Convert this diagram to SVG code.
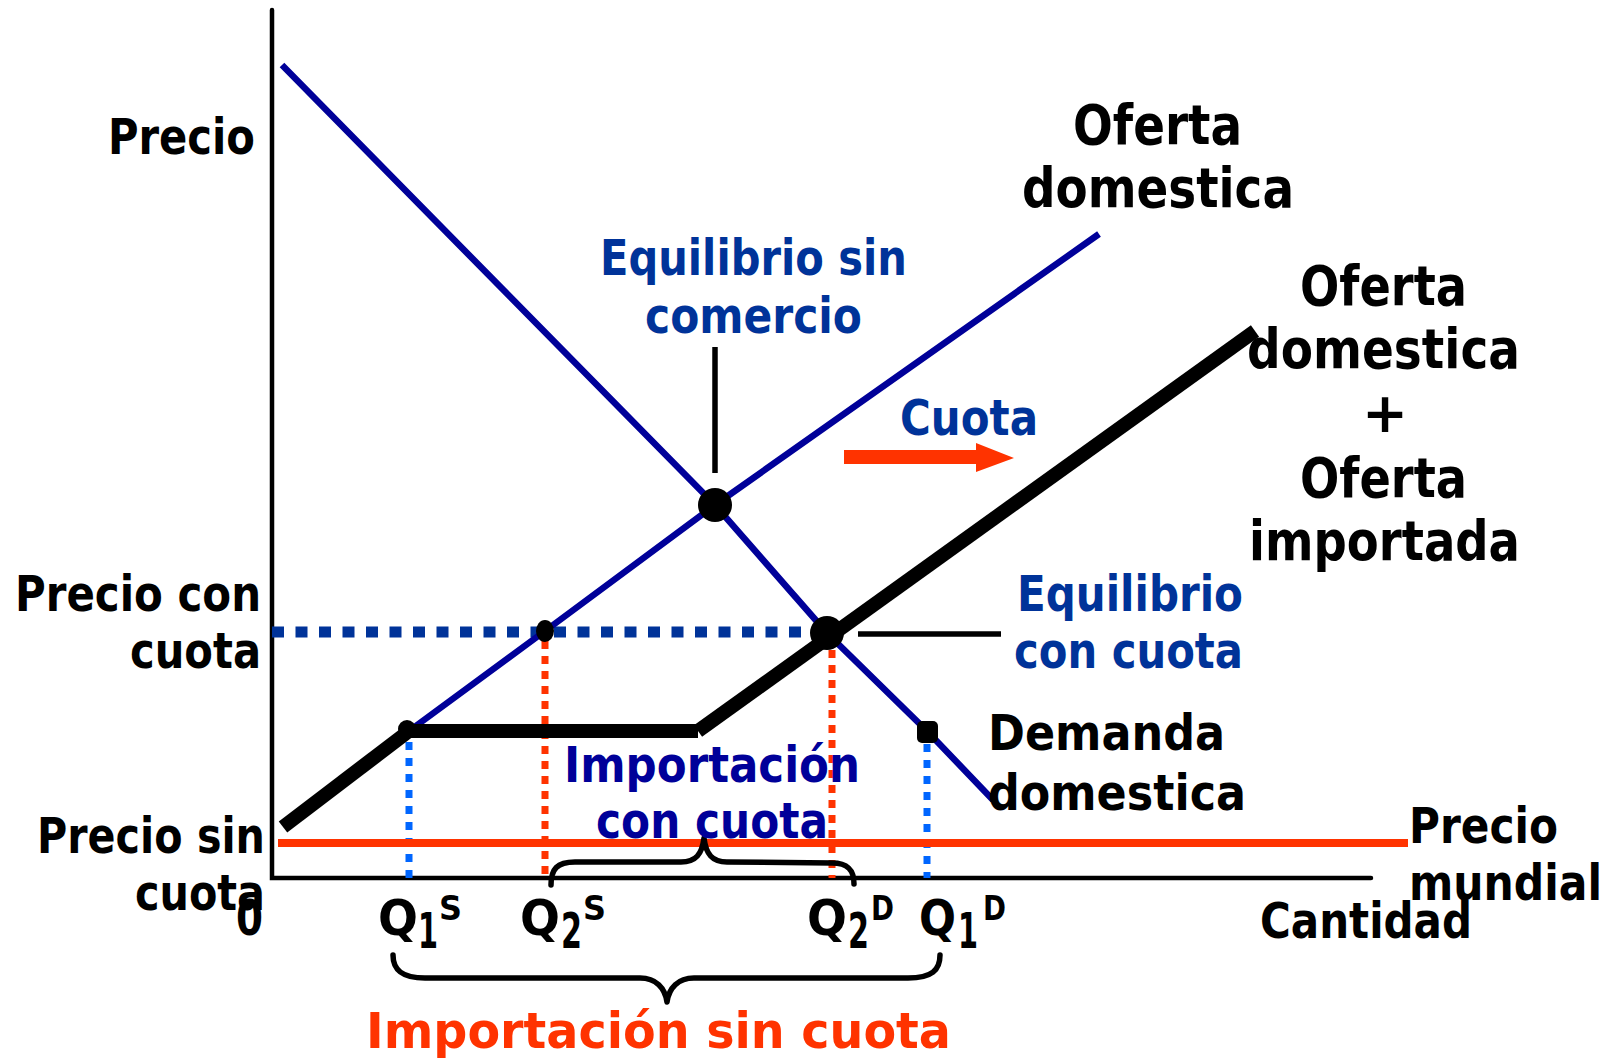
<svg xmlns="http://www.w3.org/2000/svg" width="1610" height="1058" viewBox="0 0 1610 1058">
<style>
text{font-family:"DejaVu Sans",Verdana,sans-serif;font-weight:bold;font-size:50px}
.k{fill:#000}
.b{fill:#003399}
.n{fill:#000099}
.r{fill:#FF3300}
.big{font-size:55px}
.axis{fill:none;stroke:#000;stroke-width:4.5;stroke-linecap:round}
.curve{fill:none;stroke:#000099;stroke-width:6.5}
.thick{fill:none;stroke:#000;stroke-width:14}
.brace{fill:none;stroke:#000;stroke-width:5.5;stroke-linejoin:round;stroke-linecap:round}
.dotR{fill:none;stroke:#FF3300;stroke-width:7;stroke-dasharray:8 7}
.dotB{fill:none;stroke:#0066FF;stroke-width:7;stroke-dasharray:8 8}
.lead{fill:none;stroke:#000;stroke-width:5.5}
</style>
<rect width="1610" height="1058" fill="#fff"/>

<g id="axes">
<path class="axis" d="M272,10 V878 H1371"/>
</g>

<g id="guides">
<path d="M272,632 H820" fill="none" stroke="#003399" stroke-width="11" stroke-dasharray="12 11.5"/>
<path class="dotB" d="M409,742 V878"/>
<path class="dotR" d="M545,641 V878"/>
<path class="dotR" d="M832,650 V878"/>
<path class="dotB" d="M927,744 V878"/>
<path d="M278,843 H1408" fill="none" stroke="#FF3300" stroke-width="8"/>
</g>

<g id="curves">
<polyline id="demanda" class="curve" points="282,65 715,505 827,633 928,732 993,800"/>
<polyline id="oferta-domestica" class="curve" points="409,731 545,631 715,505 1099,234"/>
<g id="oferta-total">
<line class="thick" x1="283" y1="827" x2="409" y2="731"/>
<line class="thick" x1="405" y1="731" x2="698" y2="731" stroke-width="15"/>
<line class="thick" x1="698" y1="731" x2="1255" y2="331"/>
</g>
</g>

<g id="connectors">
<path class="lead" d="M715,347 V473"/>
<path class="lead" d="M858,634 H1001" stroke-width="6"/>
<path id="cuota-arrow" d="M844,450 H976 V443 L1014,458 L976,472 V464 H844 Z" fill="#FF3300"/>
<path id="brace-con" class="brace" d="M551,885 C551,869 557,862 575,862 L681,862 C696,862 702,854 704,838 C706,854 712,862 727,862 L832,863 C848,863 854,870 854,884"/>
<path id="brace-sin" class="brace" d="M393,955 C393,970 402,978 425,978 L640,978 C656,978 665,988 667,1002 C669,988 678,978 694,978 L908,978 C932,978 940,970 940,955"/>
</g>

<g id="points">
<circle id="eq-sin-comercio" cx="715" cy="505" r="17"/>
<circle id="eq-con-cuota" cx="827" cy="633" r="17"/>
<ellipse id="pt-q2s" cx="545" cy="631" rx="9" ry="11"/>
<circle id="pt-q1s" cx="407" cy="729" r="9"/>
<rect id="pt-q1d" x="917" y="721" width="21" height="22" rx="5"/>
</g>

<g id="labels">
<text class="k" x="108" y="154" textLength="147" lengthAdjust="spacingAndGlyphs">Precio</text>
<g id="lbl-oferta-domestica">
<text class="k big" x="1073" y="144" textLength="169" lengthAdjust="spacingAndGlyphs">Oferta</text>
<text class="k big" x="1022" y="207" textLength="272" lengthAdjust="spacingAndGlyphs">domestica</text>
</g>
<g id="lbl-eq-sin">
<text class="b" x="600" y="275" textLength="307" lengthAdjust="spacingAndGlyphs">Equilibrio sin</text>
<text class="b" x="645" y="333" textLength="217" lengthAdjust="spacingAndGlyphs">comercio</text>
</g>
<g id="lbl-oferta-total">
<text class="k big" x="1300" y="305" textLength="167" lengthAdjust="spacingAndGlyphs">Oferta</text>
<text class="k big" x="1247" y="368" textLength="273" lengthAdjust="spacingAndGlyphs">domestica</text>
<text class="k big" x="1385" y="432" text-anchor="middle">+</text>
<text class="k big" x="1300" y="497" textLength="167" lengthAdjust="spacingAndGlyphs">Oferta</text>
<text class="k big" x="1249" y="560" textLength="271" lengthAdjust="spacingAndGlyphs">importada</text>
</g>
<text class="b" x="900" y="435" textLength="138" lengthAdjust="spacingAndGlyphs">Cuota</text>
<g id="lbl-precio-con">
<text class="k" x="15" y="611" textLength="246" lengthAdjust="spacingAndGlyphs">Precio con</text>
<text class="k" x="130" y="668" textLength="131" lengthAdjust="spacingAndGlyphs">cuota</text>
</g>
<g id="lbl-eq-con">
<text class="b" x="1017" y="611" textLength="226" lengthAdjust="spacingAndGlyphs">Equilibrio</text>
<text class="b" x="1014" y="668" textLength="229" lengthAdjust="spacingAndGlyphs">con cuota</text>
</g>
<g id="lbl-demanda">
<text class="k" x="988" y="750" textLength="237" lengthAdjust="spacingAndGlyphs">Demanda</text>
<text class="k" x="988" y="810" textLength="258" lengthAdjust="spacingAndGlyphs">domestica</text>
</g>
<g id="lbl-imp-con">
<text class="n" x="564" y="782" textLength="296" lengthAdjust="spacingAndGlyphs">Importación</text>
<text class="n" x="596" y="838" textLength="232" lengthAdjust="spacingAndGlyphs">con cuota</text>
</g>
<g id="lbl-precio-sin">
<text class="k" x="37" y="853" textLength="228" lengthAdjust="spacingAndGlyphs">Precio sin</text>
<text class="k" x="135" y="910" textLength="130" lengthAdjust="spacingAndGlyphs">cuota</text>
</g>
<text class="k" x="236" y="935" textLength="27" lengthAdjust="spacingAndGlyphs">0</text>
<g id="lbl-precio-mundial">
<text class="k" x="1409" y="843" textLength="149" lengthAdjust="spacingAndGlyphs">Precio</text>
<text class="k" x="1409" y="900" textLength="193" lengthAdjust="spacingAndGlyphs">mundial</text>
</g>
<text class="k" x="1260" y="938" textLength="212" lengthAdjust="spacingAndGlyphs">Cantidad</text>
<g id="lbl-q1s">
<text class="k" x="378" y="935" textLength="40" lengthAdjust="spacingAndGlyphs">Q</text>
<text class="k" x="418" y="948" font-size="48" textLength="20" lengthAdjust="spacingAndGlyphs">1</text>
<text class="k" x="439" y="920" style="font-size:34px" textLength="23" lengthAdjust="spacingAndGlyphs">S</text>
</g>
<g id="lbl-q2s">
<text class="k" x="520" y="935" textLength="40" lengthAdjust="spacingAndGlyphs">Q</text>
<text class="k" x="561" y="948" textLength="21" lengthAdjust="spacingAndGlyphs">2</text>
<text class="k" x="583" y="920" style="font-size:34px" textLength="23" lengthAdjust="spacingAndGlyphs">S</text>
</g>
<g id="lbl-q2d">
<text class="k" x="807" y="935" textLength="40" lengthAdjust="spacingAndGlyphs">Q</text>
<text class="k" x="848" y="948" textLength="21" lengthAdjust="spacingAndGlyphs">2</text>
<text class="k" x="871" y="920" style="font-size:34px" textLength="23" lengthAdjust="spacingAndGlyphs">D</text>
</g>
<g id="lbl-q1d">
<text class="k" x="919" y="935" textLength="37" lengthAdjust="spacingAndGlyphs">Q</text>
<text class="k" x="958" y="948" textLength="20" lengthAdjust="spacingAndGlyphs">1</text>
<text class="k" x="983" y="920" style="font-size:34px" textLength="23" lengthAdjust="spacingAndGlyphs">D</text>
</g>
<text class="r" x="366" y="1048" textLength="585" lengthAdjust="spacingAndGlyphs">Importación sin cuota</text>
</g>
</svg>
